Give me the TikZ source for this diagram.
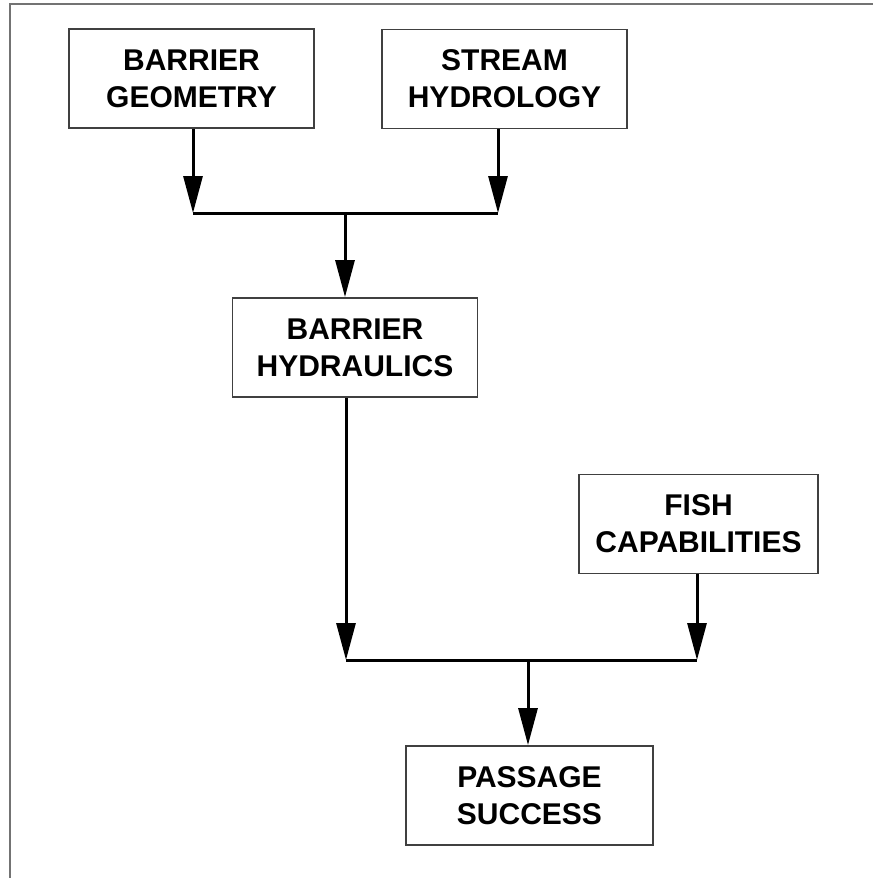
\documentclass[tikz,border=0pt]{standalone}
\usepackage{fontspec}
\setmainfont{Liberation Sans}
\usetikzlibrary{arrows.meta}

\begin{document}
\begin{tikzpicture}[x=1pt,y=-1pt,
  box/.style={draw=black!75,line width=1.8pt,minimum width=245pt,minimum height=99pt,
    inner sep=0pt,align=center,font=\fontsize{30}{37}\selectfont\bfseries},
  flow/.style={line width=3pt,-{Triangle[length=37pt,width=19pt]}},
  link/.style={line width=3pt}]
  \useasboundingbox (0,0) rectangle (873,878);
  % frame (only top and left edge remain)
  \draw[black!55,line width=2pt] (10,878) -- (10,4) -- (873,4);
  % boxes
  \node[box] (geom) at (191.5,78.5) {BARRIER\\GEOMETRY};
  \node[box] (hydro) at (504.5,79) {STREAM\\HYDROLOGY};
  \node[box] (hydr) at (355,347.5) {BARRIER\\HYDRAULICS};
  \node[box,minimum width=239pt] (fish) at (698.5,524) {FISH\\CAPABILITIES};
  \node[box,minimum width=247pt] (pass) at (529.5,795.5) {PASSAGE\\SUCCESS};
  \coordinate (j1) at (345,213);
  \coordinate (j2) at (528,660);
  % upper joint
  \draw[flow] ([xshift=1.5pt]geom.south) -- ([xshift=1.5pt]geom.south |- j1);
  \draw[flow] ([xshift=-6.5pt]hydro.south) -- ([xshift=-6.5pt]hydro.south |- j1);
  \draw[link] ([xshift=1.5pt]geom.south |- j1) -- ([xshift=-6.5pt]hydro.south |- j1);
  \draw[flow] (j1) -- (j1 |- hydr.north);
  % lower joint
  \draw[flow] ([xshift=-9pt]hydr.south) -- ([xshift=-9pt]hydr.south |- j2);
  \draw[flow] ([xshift=-1.5pt]fish.south) -- ([xshift=-1.5pt]fish.south |- j2);
  \draw[link] ([xshift=-9pt]hydr.south |- j2) -- ([xshift=-1.5pt]fish.south |- j2);
  \draw[flow] (j2) -- (j2 |- pass.north);
\end{tikzpicture}
\end{document}
